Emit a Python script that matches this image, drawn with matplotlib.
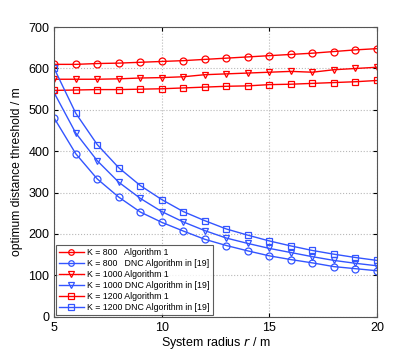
import matplotlib
matplotlib.use("Agg")
import matplotlib.pyplot as plt

plt.rcParams['font.family'] = ['Liberation Sans', 'DejaVu Sans']

# system radius r / m
radius = [5, 6, 7, 8, 9, 10, 11, 12, 13, 14, 15, 16, 17, 18, 19, 20]

# Algorithm 1 (red)
alg1_k800 = [610, 610, 612, 613, 615, 617, 619, 622, 625, 628, 631, 634, 637, 641, 645, 648]
alg1_k1000 = [574, 574, 574, 575, 577, 578, 580, 585, 587, 589, 591, 593, 591, 597, 600, 603]
alg1_k1200 = [547, 548, 549, 549, 550, 551, 553, 555, 557, 558, 561, 562, 564, 566, 568, 571]

# DNC Algorithm in [19] (blue)
dnc_k800 = [480, 394, 333, 289, 253, 228, 207, 187, 172, 159, 147, 138, 130, 121, 116, 111]
dnc_k1000 = [541, 444, 377, 325, 286, 254, 229, 208, 190, 177, 165, 155, 145, 136, 129, 123]
dnc_k1200 = [600, 492, 416, 360, 317, 283, 254, 232, 212, 197, 183, 171, 160, 151, 143, 136]

xticks = [5, 10, 15, 20]
yticks = [0, 100, 200, 300, 400, 500, 600, 700]

red = '#ff0000'
blue = '#3355ff'

fig = plt.figure(figsize=(4.17, 3.57), dpi=100)
ax = fig.add_axes([0.13, 0.113, 0.774, 0.811])

series = [
    (alg1_k800, red, 'o', 'K = 800   Algorithm 1'),
    (dnc_k800, blue, 'o', 'K = 800   DNC Algorithm in [19]'),
    (alg1_k1000, red, 'v', 'K = 1000 Algorithm 1'),
    (dnc_k1000, blue, 'v', 'K = 1000 DNC Algorithm in [19]'),
    (alg1_k1200, red, 's', 'K = 1200 Algorithm 1'),
    (dnc_k1200, blue, 's', 'K = 1200 DNC Algorithm in [19]'),
]
for y, c, m, lab in series:
    ax.plot(radius, y, color=c, marker=m, markersize=5, markerfacecolor='none',
            markeredgecolor=c, markeredgewidth=0.9, linewidth=1.0, label=lab)

ax.set_xlim(5, 20)
ax.set_ylim(0, 700)
ax.set_xticks(xticks)
ax.set_yticks(yticks)
ax.tick_params(direction='in', labelsize=9, length=3, top=True, right=True)
ax.grid(True, linestyle=':', color='#b8b8b8', linewidth=0.8)
for s in ax.spines.values():
    s.set_color('#555555')
    s.set_linewidth(0.8)

ax.set_xlabel('System radius $r$ / m', fontsize=9, labelpad=1)
ax.set_ylabel('optimum distance threshold / m', fontsize=8.7, labelpad=4)

leg = ax.legend(loc='lower left', fontsize=6.3, frameon=True, fancybox=False,
                borderaxespad=0.15, handlelength=2.8, labelspacing=0.22,
                borderpad=0.4, handletextpad=0.4, markerscale=0.8)
leg.get_frame().set_edgecolor('#333333')
leg.get_frame().set_linewidth(0.8)

plt.savefig('out.png', dpi=100)
